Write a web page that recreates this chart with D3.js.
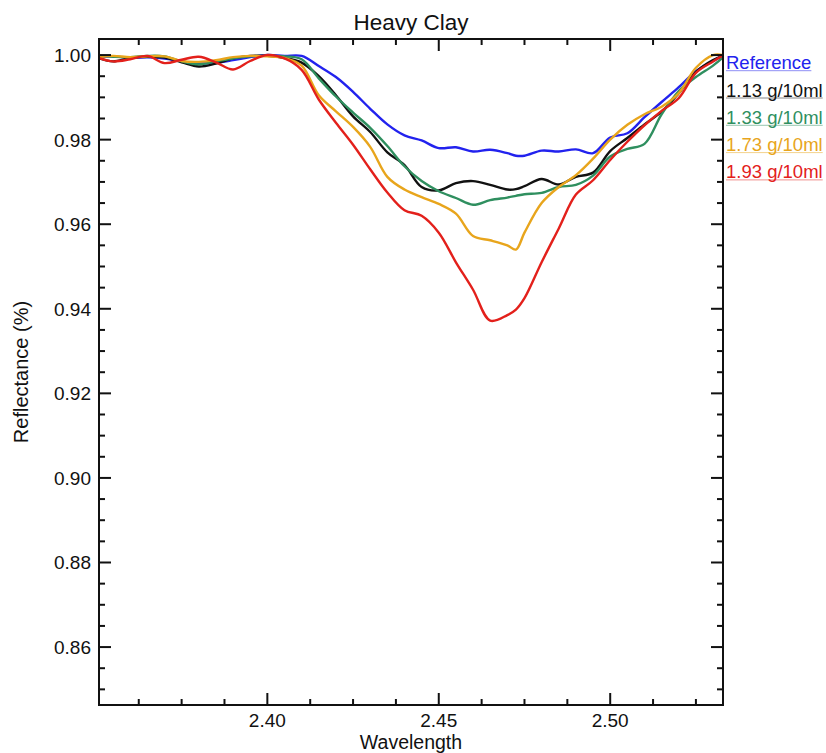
<!DOCTYPE html>
<html>
<head>
<meta charset="utf-8">
<script src="https://cdn.jsdelivr.net/npm/d3@7"></script>
<style>
  html, body { margin: 0; padding: 0; background: #fff; }
  svg { display: block; font-family: "Liberation Sans", Arial, Helvetica, sans-serif; }
</style>
</head>
<body>
<svg id="chart" width="826" height="753"></svg>
<script>
const title = "Heavy Clay";
const xLabel = "Wavelength";
const yLabel = "Reflectance (%)";

const wavelengths = [2.351, 2.355, 2.360, 2.365, 2.370, 2.375, 2.380, 2.385, 2.390, 2.395,
  2.400, 2.405, 2.410, 2.415, 2.420, 2.425, 2.430, 2.435, 2.440, 2.445,
  2.450, 2.455, 2.460, 2.465, 2.470, 2.4725, 2.475, 2.480, 2.485, 2.490,
  2.495, 2.500, 2.505, 2.510, 2.515, 2.520, 2.525, 2.530, 2.533];

const seriesNames = ["Reference", "1.13 g/10ml", "1.33 g/10ml", "1.73 g/10ml", "1.93 g/10ml"];
const seriesColors = ["#2222ee", "#111111", "#2f8f5f", "#e8a51c", "#e3201b"];

const reference = [0.9995, 0.9997, 0.9993, 0.9995, 0.9992, 0.9985, 0.9980, 0.9982, 0.9988, 0.9995,
  1.0000, 0.9998, 0.9998, 0.9974, 0.9948, 0.9913, 0.9873, 0.9836, 0.9810, 0.9798,
  0.9780, 0.9782, 0.9772, 0.9776, 0.9768, 0.9762, 0.9762, 0.9774, 0.9772, 0.9777,
  0.9768, 0.9805, 0.9815, 0.9853, 0.9889, 0.9924, 0.9962, 0.9986, 1.0000];

const d113 = [0.9992, 0.9985, 0.9993, 0.9996, 0.9994, 0.9983, 0.9973, 0.9980, 0.9992, 0.9998,
  0.9998, 0.9993, 0.9982, 0.9950, 0.9905, 0.9855, 0.9818, 0.9770, 0.9740, 0.9688,
  0.9680, 0.9697, 0.9702, 0.9693, 0.9682, 0.9683, 0.9690, 0.9707, 0.9694, 0.9712,
  0.9722, 0.9773, 0.9804, 0.9836, 0.9866, 0.9910, 0.9960, 0.9988, 0.9998];

const d133 = [0.9998, 0.9996, 0.9995, 0.9998, 0.9997, 0.9985, 0.9978, 0.9985, 0.9992, 0.9997,
  0.9998, 0.9997, 0.9990, 0.9945, 0.9902, 0.9864, 0.9828, 0.9785, 0.9737, 0.9702,
  0.9678, 0.9662, 0.9646, 0.9657, 0.9663, 0.9667, 0.9671, 0.9674, 0.9688, 0.9693,
  0.9715, 0.9760, 0.9778, 0.9790, 0.9860, 0.9915, 0.9948, 0.9975, 0.9995];

const d173 = [0.9995, 0.9998, 0.9995, 0.9997, 0.9997, 0.9986, 0.9984, 0.9988, 0.9995, 0.9998,
  0.9997, 0.9993, 0.9975, 0.9905, 0.9867, 0.9830, 0.9783, 0.9712, 0.9682, 0.9664,
  0.9648, 0.9625, 0.9572, 0.9562, 0.9550, 0.9540, 0.9580, 0.9650, 0.9688, 0.9716,
  0.9755, 0.9800, 0.9835, 0.9860, 0.9878, 0.9910, 0.9970, 1.0000, 1.0000];

const d193 = [0.9993, 0.9985, 0.9990, 0.9998, 0.9981, 0.9989, 0.9996, 0.9983, 0.9966, 0.9986,
  1.0000, 0.9992, 0.9965, 0.9895, 0.9840, 0.9788, 0.9730, 0.9675, 0.9633, 0.9620,
  0.9580, 0.9510, 0.9445, 0.9372, 0.9385, 0.9398, 0.9425, 0.9510, 0.9590, 0.9670,
  0.9704, 0.9752, 0.9795, 0.9834, 0.9868, 0.9898, 0.9958, 0.9985, 1.0000];

const seriesValues = [reference, d113, d133, d173, d193];

const xMajorTicks = [2.40, 2.45, 2.50];
const yMajorTicks = [0.86, 0.88, 0.90, 0.92, 0.94, 0.96, 0.98, 1.00];

const svg = d3.select("#chart");
const mLeft = 99, mRight = 723, mTop = 39, mBottom = 705;

const x = d3.scaleLinear().domain([2.3509, 2.5329]).range([mLeft, mRight]);
const y = d3.scaleLinear().domain([0.8463, 1.0038]).range([mBottom, mTop]);

// minor ticks
const xMinor = d3.range(Math.ceil(2.3509 / 0.0125), Math.floor(2.5329 / 0.0125) + 1).map(k => k * 0.0125)
  .filter(v => !xMajorTicks.some(m => Math.abs(m - v) < 1e-6));
const yMinor = d3.range(Math.ceil(0.8463 / 0.005), Math.floor(1.0038 / 0.005) + 1).map(k => +(k * 0.005).toFixed(3))
  .filter(v => !yMajorTicks.some(m => Math.abs(m - v) < 1e-6));

// Clip for curves
svg.append("clipPath").attr("id", "clip").append("rect")
  .attr("x", mLeft).attr("y", mTop).attr("width", mRight - mLeft).attr("height", mBottom - mTop);

// curves
const line = d3.line()
  .x((d, i) => x(wavelengths[i]))
  .y(d => y(d))
  .curve(d3.curveCatmullRom.alpha(0.5));

const curves = svg.append("g").attr("clip-path", "url(#clip)");
seriesValues.forEach((vals, si) => {
  curves.append("path")
    .attr("d", line(vals))
    .attr("fill", "none")
    .attr("stroke", seriesColors[si])
    .attr("stroke-width", 2.4)
    .attr("stroke-linejoin", "round")
    .attr("stroke-linecap", "round");
});

// axes: inward ticks on all four sides
const axisG = svg.append("g").attr("stroke", "#111").attr("stroke-width", 2);
const majorLen = 12, minorLen = 6;

function xTicks(vals, len) {
  vals.forEach(v => {
    axisG.append("line").attr("x1", x(v)).attr("x2", x(v)).attr("y1", mBottom).attr("y2", mBottom - len);
    axisG.append("line").attr("x1", x(v)).attr("x2", x(v)).attr("y1", mTop).attr("y2", mTop + len);
  });
}
function yTicks(vals, len) {
  vals.forEach(v => {
    axisG.append("line").attr("x1", mLeft).attr("x2", mLeft + len).attr("y1", y(v)).attr("y2", y(v));
    axisG.append("line").attr("x1", mRight).attr("x2", mRight - len).attr("y1", y(v)).attr("y2", y(v));
  });
}
xTicks(xMajorTicks, majorLen);
xTicks(xMinor, minorLen);
yTicks(yMajorTicks, majorLen);
yTicks(yMinor, minorLen);

axisG.append("rect")
  .attr("x", mLeft).attr("y", mTop).attr("width", mRight - mLeft).attr("height", mBottom - mTop)
  .attr("fill", "none");

// tick labels
const labels = svg.append("g").attr("fill", "#111").attr("font-size", 19);
xMajorTicks.forEach(v => {
  labels.append("text").attr("x", x(v)).attr("y", mBottom + 22)
    .attr("text-anchor", "middle").text(d3.format(".2f")(v));
});
yMajorTicks.forEach(v => {
  labels.append("text").attr("x", mLeft - 8).attr("y", y(v) + 7)
    .attr("text-anchor", "end").text(d3.format(".2f")(v));
});

// axis titles
svg.append("text").attr("x", (mLeft + mRight) / 2).attr("y", 749)
  .attr("text-anchor", "middle").attr("font-size", 19.5).attr("fill", "#111").text(xLabel);
svg.append("text").attr("transform", `translate(28,${(mTop + mBottom) / 2}) rotate(-90)`)
  .attr("text-anchor", "middle").attr("font-size", 20).attr("fill", "#111").text(yLabel);
svg.append("text").attr("x", (mLeft + mRight) / 2).attr("y", 30)
  .attr("text-anchor", "middle").attr("font-size", 22.5).attr("fill", "#111").text(title);

// legend
const legend = svg.append("g");
seriesNames.forEach((name, i) => {
  const cy = 62.7 + i * 27.3;
  const t = legend.append("text").attr("x", 726).attr("y", cy + 6.5)
    .attr("font-size", 18.5).attr("fill", seriesColors[i]).text(name);
  const w = t.node().getComputedTextLength();
  legend.append("line").attr("x1", 726).attr("x2", 726 + w)
    .attr("y1", cy + 8).attr("y2", cy + 8)
    .attr("stroke", seriesColors[i]).attr("stroke-opacity", 0.5).attr("stroke-width", 1);
});
</script>
</body>
</html>
